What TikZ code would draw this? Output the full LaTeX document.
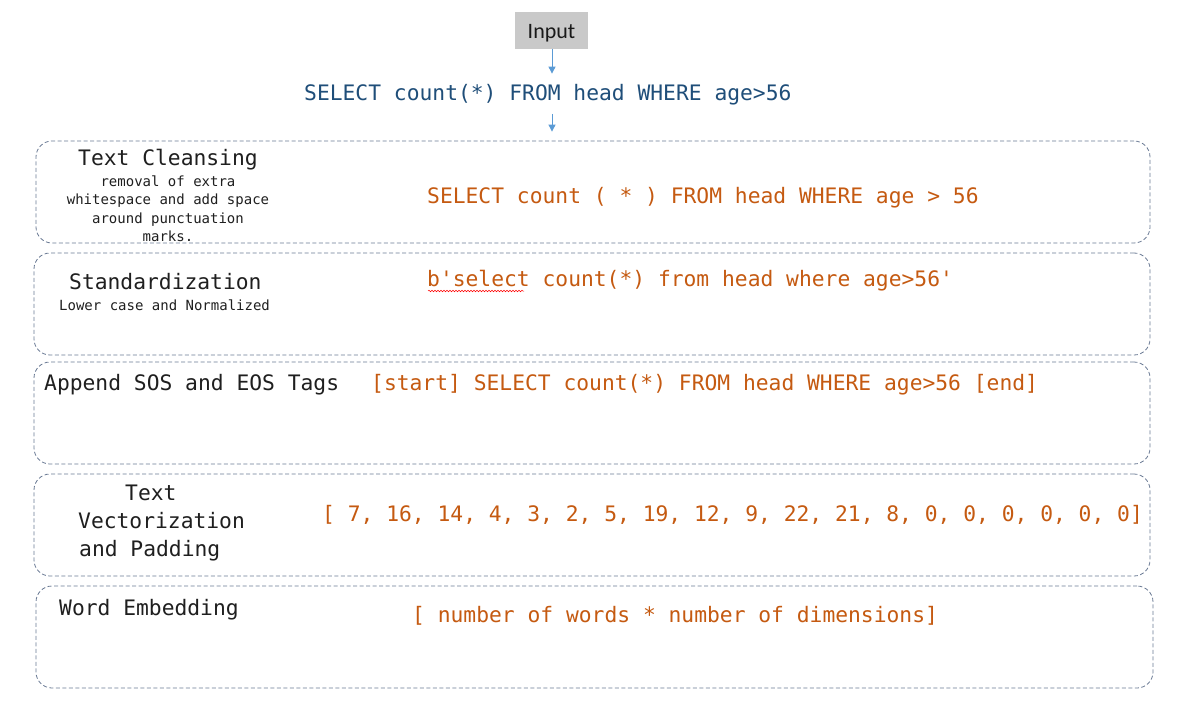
\documentclass[tikz,border=0pt]{standalone}
\usepackage{fontspec}
\usetikzlibrary{arrows.meta,decorations.pathmorphing}
\newfontfamily\monof{DejaVu Sans Mono}
\newfontfamily\calib{Carlito}
\definecolor{boxline}{HTML}{6A7A94}
\definecolor{arrowblue}{HTML}{5B9BD5}
\definecolor{qblue}{HTML}{1F4E79}
\definecolor{orangetxt}{HTML}{C55A11}
\definecolor{inputgray}{HTML}{C9C9C9}
\begin{document}
\begin{tikzpicture}[x=1pt,y=-1pt,
  stagebox/.style={draw=boxline, dash pattern=on 4pt off 2.5pt, line width=0.8pt, rounded corners=16pt, minimum width=1114pt, minimum height=102pt, inner sep=0pt},
  bigtxt/.style={anchor=base west, inner sep=0pt, font=\monof\fontsize{21.3}{26}\selectfont, text=black!88},
  smalltxt/.style={anchor=base, inner sep=0pt, font=\monof\fontsize{14}{17}\selectfont, text=black!88},
  orangetxtstyle/.style={anchor=base west, inner sep=0pt, font=\monof\fontsize{21.3}{26}\selectfont, text=orangetxt},
  flow/.style={draw=arrowblue, line width=0.9pt, -{Triangle[length=7pt,width=7pt]}}
]
\useasboundingbox (0,0) rectangle (1200,725);
\fill[white] (0,0) rectangle (1200,725);

% input
\node[fill=inputgray, minimum width=73pt, minimum height=37pt, inner sep=0pt] (in) at (551.5,30.5) {};
\node[anchor=base, inner sep=0pt, font=\calib\fontsize{22}{26}\selectfont, text=black!90] (inlabel) at (551.5,39) {Input};
\node[anchor=base west, inner sep=0pt, font=\monof\fontsize{21.3}{26}\selectfont, text=qblue] (q) at (304,100) {SELECT count(*) FROM head WHERE age>56};

% boxes
\node[stagebox] (b1) at (593,192) {};
\node[stagebox, minimum width=1116pt] (b2) at (592,304) {};
\node[stagebox, minimum width=1116pt] (b3) at (592,413) {};
\node[stagebox, minimum width=1116pt] (b4) at (592,525) {};
\node[stagebox, minimum width=1117pt] (b5) at (594.5,637) {};

% arrows
\draw[flow, shorten >=10pt] (in.south -| 552,0) -- (552,0 |- q.north);
\draw[flow, shorten <=9pt, shorten >=9pt] (552,0 |- q.south) -- (552,0 |- b1.north);

% box 1
\node[bigtxt] (t1) at (78,165) {Text Cleansing};
\node[smalltxt] (s1a) at (168,186) {removal of extra};
\node[smalltxt] (s1b) at (168,204) {whitespace and add space};
\node[smalltxt] (s1c) at (168,223) {around punctuation};
\node[smalltxt] (s1d) at (168,241) {marks.};
\node[orangetxtstyle] (o1) at (427,203) {SELECT count ( * ) FROM head WHERE age > 56};

% box 2
\node[bigtxt] (t2) at (69,289) {Standardization};
\node[smalltxt, anchor=base west] (s2) at (59,310) {Lower case and Normalized};
\node[orangetxtstyle] (o2) at (427,286) {b'select count(*) from head where age>56'};
\draw[red, line width=0.5pt, decorate, decoration={snake, amplitude=0.8pt, segment length=3pt}] (428,291) -- (524,291);

% box 3
\node[bigtxt] (t3) at (44,390) {Append SOS and EOS Tags};
\node[orangetxtstyle] (o3) at (371,390) {[start] SELECT count(*) FROM head WHERE age>56 [end]};

% box 4
\node[bigtxt] (t4a) at (125,500) {Text};
\node[bigtxt] (t4b) at (78,528) {Vectorization};
\node[bigtxt] (t4c) at (79,556) {and Padding};
\node[orangetxtstyle] (o4) at (322,521) {[ 7, 16, 14, 4, 3, 2, 5, 19, 12, 9, 22, 21, 8, 0, 0, 0, 0, 0, 0]};

% box 5
\node[bigtxt] (t5) at (59,615) {Word Embedding};
\node[orangetxtstyle] (o5) at (412,622) {[ number of words * number of dimensions]};
\end{tikzpicture}
\end{document}
